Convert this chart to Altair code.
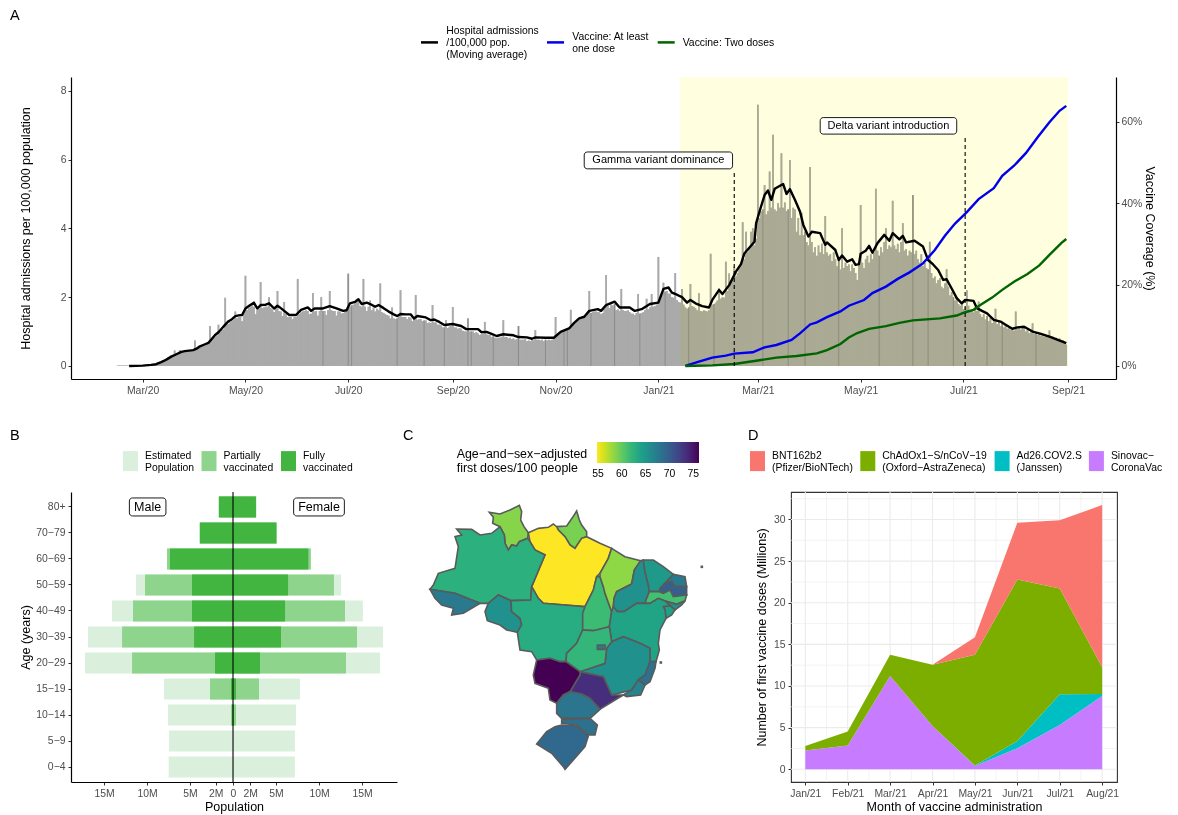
import altair as alt
import pandas as pd

FONT = "Liberation Sans"
TXT = "\u2212"

# ---------- Panel A ----------
start_day = "2020-02-15"
daily_adm = [
0.01,0.01,0.01,0.01,0.01,0.01,0.01,0.01,0.01,0.01,
0.01,0.01,0.01,0.01,0.01,0.02,0.01,0.02,0.02,0.02,
0.03,0.03,0.04,0.05,0.08,0.09,0.12,0.16,0.18,0.22,
.26,.27,.3,.3,.45,.33,.36,.46,.4,.42,
.42,.44,.44,.45,.44,.47,.74,.48,.52,.55,
.58,.6,.62,.66,.66,1.16,.72,.8,.85,.88,
1.2,.98,1.04,1.06,1.98,1.2,1.22,1.28,1.3,1.34,
1.58,1.38,1.42,1.42,1.3,1.56,2.62,1.62,1.68,1.72,
1.76,1.72,1.5,1.62,1.66,2.44,1.68,1.7,1.72,1.72,
2.0,1.68,1.64,1.56,1.66,2.18,1.6,1.58,1.45,1.86,
1.5,1.42,1.42,1.42,1.36,1.42,1.42,2.53,1.5,1.55,
1.58,1.6,1.62,1.6,1.5,1.52,2.12,1.58,1.6,1.46,
1.6,2.0,1.6,1.6,1.48,1.62,2.18,1.62,1.6,1.6,
1.46,1.58,1.58,1.52,1.54,1.56,1.6,2.68,1.72,1.76,
1.78,1.82,1.84,1.86,1.74,1.72,2.53,1.72,1.6,1.72,
1.9,1.62,1.7,1.58,1.66,1.62,2.4,1.56,1.54,1.5,
1.48,1.46,1.38,1.7,1.38,1.36,1.38,1.44,2.2,1.42,
1.42,1.42,1.36,1.42,1.4,1.3,1.36,2.06,1.34,1.36,
1.36,1.3,1.32,1.32,1.24,1.26,1.25,1.77,1.26,1.26,
1.2,1.2,1.18,1.12,1.12,1.33,1.1,1.14,1.16,1.71,
1.12,1.12,1.08,1.1,1.08,1.02,1.0,1.0,1.38,1.0,
1.0,1.0,.96,.98,.94,.9,.92,.92,1.28,.92,
.9,.9,.84,.86,.82,.8,.82,.82,.84,1.33,
.84,.84,.8,.82,.78,.8,.76,.78,1.16,.76,
.76,.76,.78,.72,.74,.72,.76,.74,1.04,.76,
.76,.74,.76,.72,.76,.74,.76,.74,.76,.78,
1.42,.88,.94,.98,1.04,1.02,1.06,1.1,1.06,1.63,
1.18,1.22,1.3,1.3,1.34,1.36,1.38,1.42,1.46,1.5,
2.18,1.54,1.56,1.58,1.58,1.56,1.56,1.5,1.54,1.66,
2.64,1.74,1.68,1.78,1.76,1.8,1.62,1.64,1.6,2.24,
1.62,1.6,1.6,1.62,1.56,1.52,1.52,1.48,1.54,2.09,
1.52,1.54,1.56,1.62,1.95,1.64,1.7,2.09,1.72,1.74,
1.78,3.17,2.0,2.1,2.42,2.16,2.18,2.1,2.1,2.0,
1.98,2.7,1.92,1.86,1.84,2.24,1.78,1.7,1.66,1.7,
2.38,1.74,1.72,1.68,1.62,2.11,1.6,1.58,1.62,1.6,
1.58,1.62,3.26,1.78,1.8,1.84,1.9,2.26,1.95,2.0,
1.98,3.03,2.18,2.69,2.42,2.5,2.89,2.6,2.7,2.85,
2.95,4.18,3.1,3.9,3.3,3.4,3.9,4.0,3.5,3.7,
7.59,4.3,4.5,4.55,5.26,4.4,4.5,5.65,4.6,6.72,
4.55,4.5,4.73,4.6,6.18,4.6,4.75,4.5,4.55,5.99,
4.3,4.6,4.55,3.9,4.3,3.8,4.45,3.8,3.9,3.6,
3.5,5.78,3.6,3.3,3.45,3.2,3.5,3.3,3.55,3.25,
4.36,3.3,3.2,3.25,3.05,3.3,3.1,2.9,3.05,2.8,
4.0,2.85,3.0,2.9,2.95,2.75,2.95,2.85,2.7,2.5,
2.95,4.68,3.0,2.85,3.1,3.2,3.0,3.25,3.1,3.3,
5.15,3.35,3.2,3.45,3.3,3.6,4.0,3.4,3.5,3.45,
4.8,3.5,3.4,3.55,3.3,3.6,4.15,3.35,3.4,3.2,
3.35,3.3,4.97,3.25,3.35,3.1,3.0,3.25,2.9,3.0,
2.85,2.8,3.61,2.7,2.55,2.6,2.4,2.5,2.55,2.3,
2.25,2.4,2.81,2.3,2.05,2.15,2.0,1.9,2.0,1.8,
1.75,1.85,1.65,1.7,2.2,1.75,1.6,1.65,1.55,1.7,
1.6,1.87,1.5,1.42,1.5,1.35,1.45,1.3,1.4,1.25,
1.3,1.66,1.22,1.3,1.15,1.25,1.12,1.2,1.08,1.12,
1.05,1.1,1.02,1.58,1.08,1.12,1.05,1.1,1.15,1.0,
1.05,0.95,1.0,1.24,0.92,0.98,0.9,0.95,0.88,0.92,
0.85,0.9,0.88,1.03,0.82,0.85,0.78,0.82,0.75,0.8,
0.72,0.75,0.68,0.62]
dark_days = [122,137,139,166,182,194,208,210,223,238,254,265,267,281,295,310,325,339,
             354,383,398,408,428,452,472,481,496,516,525,545]
ma_days = [7,15,20,23,26,29,32,35,38,40,45,47,49,52,54,56,58,60,62,64,66,68,70,72,74,76,78,81,83,85,88,90,93,95,97,99,
102,106,109,113,115,117,122,126,130,134,136,138,141,143,145,148,150,153,155,158,161,164,166,168,171,174,176,178,183,186,188,191,194,199,
204,207,214,216,219,222,225,229,235,238,243,246,248,254,259,263,268,271,274,277,280,285,287,290,295,298,304,307,311,316,321,324,327,329,
332,335,338,340,343,347,351,353,357,359,363,367,370,372,378,379,381,384,386,388,390,395,397,399,402,405,407,410,412,417,420,421,426,428,
430,433,436,438,440,441,444,446,448,451,455,458,460,464,466,468,473,478,481,484,487,490,492,495,498,501,503,508,510,513,516,520,524,527,
531,534,538,543,548,553,558,563]
ma_vals = [0,.01,.03,.05,.11,.18,.27,.34,.41,.43,.46,.5,.57,.63,.67,.78,.9,.98,1.09,1.2,1.3,1.36,1.45,1.47,1.48,1.67,1.74,1.84,1.67,1.77,1.78,1.82,1.67,1.75,1.68,1.6,
1.48,1.48,1.63,1.7,1.6,1.67,1.67,1.74,1.67,1.6,1.62,1.82,1.86,1.94,1.8,1.84,1.8,1.72,1.77,1.68,1.58,1.5,1.45,1.51,1.5,1.5,1.38,1.45,1.41,1.33,1.35,1.28,1.19,1.22,
1.16,1.07,1.07,.98,.99,.93,.87,.92,.89,.84,.83,.79,.83,.82,.82,.99,1.09,1.25,1.38,1.43,1.6,1.65,1.6,1.77,1.87,1.7,1.7,1.6,1.65,1.8,1.84,2.24,2.28,2.13,
2.07,2.0,1.84,1.92,1.82,1.74,1.7,1.92,2.21,2.09,2.35,2.74,2.96,3.27,3.61,4.15,4.49,4.97,5.1,4.83,5.15,5.29,5.0,5.14,4.83,4.49,4.1,3.76,3.9,3.86,3.52,3.59,3.37,3.08,
3.21,3.03,3.1,2.94,2.96,3.26,3.35,3.49,3.29,3.57,3.81,3.64,3.86,3.68,3.78,3.59,3.64,3.47,3.08,2.95,2.79,2.5,2.52,2.25,1.97,1.82,1.92,1.89,1.68,1.6,1.53,1.34,1.29,1.2,
1.08,1.12,1.14,1.0,.93,.85,.76,.66]
blue_days = [337,345,353,361,366,377,384,391,400,405,411,415,421,429,434,443,448,456,463,470,478,485,491,497,504,511,520,525,532,539,546,553,559,563]
blue_vals = [0,1.07,2.05,2.54,3.03,3.36,4.59,5.16,6.4,8.0,10.2,10.7,12,13.4,14.8,16.2,17.9,19.5,21.4,23,25.2,28.5,32,35,37.8,41,43.7,46.7,49.2,52.3,56.2,59.9,62.7,63.9]
green_days = [337,353,366,381,391,403,415,421,429,434,439,446,456,464,472,488,498,503,508,512,519,525,532,540,547,553,560,563]
green_vals = [0,.16,.5,1.4,2.05,2.46,3.1,3.9,5.4,7,8.1,9.1,9.8,10.6,11.2,11.7,12.4,13.2,13.8,15,16.8,18.7,20.7,22.6,24.7,27.3,30.2,31.2]

S_MA = "Hospital admissions\n/100,000 pop.\n(Moving average)"
S_V1 = "Vaccine: At least\none dose"
S_V2 = "Vaccine: Two doses"
A_series = [S_MA, S_V1, S_V2]
A_colors = ["#000000", "#0000EE", "#006400"]

annot_text = ["Gamma variant dominance", "Delta variant introduction"]
annot_day = [366, 503]
annot_top = [5.65, 6.69]
annot_box_from = [277, 417]
annot_box_to = [365, 498]
annot_box_low = [5.73, 6.74]
annot_box_high = [6.22, 7.22]
annot_label_y = [5.98, 6.98]
shade_from, shade_to = 334, 564


def day(d):
    return (pd.Timestamp(start_day) + pd.to_timedelta(d, unit="h") * 24).strftime("%Y-%m-%dT%H:%M:%S")


XDOM = ["2020-01-18T12:00:00", "2021-09-29T12:00:00"]
AX_A = alt.Axis(format="%b/%y", tickCount={"interval": "month", "step": 2}, labelPadding=3)


def xa(field="date"):
    return alt.X(f"{field}:T", title=None, scale=alt.Scale(domain=XDOM, padding=0), axis=AX_A)


LEFT_DOM = [-0.38, 8.4]
RIGHT_DOM = [-3.2, 71]


def yl(f, axis=None):
    return alt.Y(f"{f}:Q", title=None, scale=alt.Scale(domain=LEFT_DOM, nice=False, zero=False), axis=axis)


bars_df = pd.DataFrame({"date": [day(i) for i in range(len(daily_adm))], "v": daily_adm})
dark_df = pd.DataFrame({"date": [day(d) for d in dark_days], "v": [daily_adm[d] for d in dark_days]})
ma_df = pd.DataFrame({"date": [day(d) for d in ma_days], "v": ma_vals, "s": S_MA})
vac_df = pd.DataFrame({"date": [day(d) for d in blue_days] + [day(d) for d in green_days],
                       "v": blue_vals + green_vals,
                       "s": [S_V1] * len(blue_days) + [S_V2] * len(green_days)})
shade_df = pd.DataFrame({"date": [day(shade_from)], "date2": [day(shade_to)]})
ann_df = pd.DataFrame({"date": [day(d) for d in annot_day], "top": annot_top, "zero": [0, 0],
                       "b1": [day(d) for d in annot_box_from], "b2": [day(d) for d in annot_box_to],
                       "low": annot_box_low, "high": annot_box_high, "ly": annot_label_y,
                       "mid": [day((a + b) / 2) for a, b in zip(annot_box_from, annot_box_to)],
                       "t": annot_text})

color_a = alt.Color("s:N", scale=alt.Scale(domain=A_series, range=A_colors), legend=None)

a_under = alt.Chart(bars_df).mark_area(interpolate="step", color="#AAAAAA").encode(x=xa(), y=yl("v"))
a_bars = alt.Chart(bars_df).mark_bar(size=1.685, color="#AAAAAA").encode(
    x=xa(),
    y=yl("v", alt.Axis(values=[0, 2, 4, 6, 8], title="Hospital admissions per 100,000 population", titlePadding=28)))
a_dark = alt.Chart(dark_df).mark_bar(size=1, color="#8C8C8C").encode(x=xa(), y=yl("v"))
a_shade = alt.Chart(shade_df).mark_rect(color="#FFFFE0", blend="multiply").encode(
    x=xa(), x2="date2:T", y=alt.value(0), y2=alt.value(289))
a_ma = alt.Chart(ma_df).mark_line(strokeWidth=2.4, strokeJoin="round").encode(x=xa(), y=yl("v"), color=color_a)
a_vac = alt.Chart(vac_df).mark_line(strokeWidth=2.4).encode(
    x=xa(),
    y=alt.Y("v:Q", title=None, scale=alt.Scale(domain=RIGHT_DOM, nice=False, zero=False),
            axis=alt.Axis(orient="right", values=[0, 20, 40, 60], labelExpr="datum.value + '%'",
                          title="Vaccine Coverage (%)", titlePadding=1)),
    color=color_a)
a_dash = alt.Chart(ann_df).mark_rule(color="#000000", strokeDash=[4, 3], strokeWidth=1.1).encode(
    x=xa(), y=yl("zero"), y2="top:Q")
a_box = alt.Chart(ann_df).mark_rect(fill="#FFFFFF", stroke="#000000", strokeWidth=0.9, cornerRadius=3).encode(
    x=xa("b1"), x2="b2:T", y=yl("low"), y2="high:Q")
a_txt = alt.Chart(ann_df).mark_text(fontSize=11, font=FONT, color="#000000").encode(
    x=xa("mid"), y=yl("ly"), text="t:N")


def panel_label(letter, px, py):
    return alt.Chart(pd.DataFrame({"t": [letter]})).mark_text(
        fontSize=14.5, font=FONT, align="left", baseline="middle", color="#000000").encode(
        x=alt.value(px), y=alt.value(py), text="t:N")


def multi_text(text, left, first_y, size=10.4, lh=11.7):
    return alt.Chart(pd.DataFrame({"s": [text]})).mark_text(
        fontSize=size, font=FONT, align="left", baseline="middle", lineBreak="\n", lineHeight=lh, color="#000000").encode(
        x=alt.value(left), y=alt.value(first_y), text="s:N")


def key_line(series, color, left):
    return alt.Chart(pd.DataFrame({"s": [series]})).mark_rule(color=color, strokeWidth=2.5).encode(
        x=alt.value(left), x2=alt.value(left + 17), y=alt.value(-34.6))


chart_a = alt.layer(a_under, a_bars, a_dark, a_shade, a_ma, a_vac, a_dash, a_box, a_txt, panel_label("A", -61, -61),
                    key_line(S_MA, A_colors[0], 350), multi_text(S_MA, 375.3, -45.6),
                    key_line(S_V1, A_colors[1], 476), multi_text(S_V1, 501.3, -39.9),
                    key_line(S_V2, A_colors[2], 586.7), multi_text(S_V2, 611.7, -34.4)).resolve_scale(
    y="independent").properties(width=1045, height=302)

# ---------- Panel B ----------
ages = ["80+", f"70{TXT}79", f"60{TXT}69", f"50{TXT}59", f"40{TXT}49", f"30{TXT}39", f"20{TXT}29", f"15{TXT}19",
        f"10{TXT}14", f"5{TXT}9", f"0{TXT}4"]
male_est = [-1.7, -3.9, -7.67, -11.28, -14.07, -16.86, -17.2, -8.02, -7.56, -7.44, -7.48]
male_par = [-1.66, -3.88, -7.67, -10.23, -11.63, -12.9, -11.74, -2.67, -0.23, 0, 0]
male_ful = [-1.63, -3.84, -7.33, -4.77, -4.77, -4.53, -2.09, -0.23, -0.1, 0, 0]
female_est = [2.75, 5.1, 9.07, 12.56, 15.1, 17.44, 17.1, 7.79, 7.33, 7.2, 7.2]
female_par = [2.68, 5.08, 9.05, 11.74, 13.02, 14.42, 13.14, 3.02, 0.35, 0, 0]
female_ful = [2.67, 5.04, 8.76, 6.4, 6.05, 5.58, 3.14, 0.35, 0.1, 0, 0]
G_EST, G_PAR, G_FUL = "Estimated\nPopulation", "Partially\nvaccinated", "Fully\nvaccinated"
B_groups = [G_EST, G_PAR, G_FUL]
B_colors = ["#DAF0DC", "#8ED48C", "#42B540"]
sex_label = ["Male", "Female"]
sex_box_from = [-12.05, 7.05]
sex_box_to = [-7.8, 12.95]
sex_mid = [-9.93, 10.0]

rows = []
for grp, m, f in [(G_EST, male_est, female_est), (G_PAR, male_par, female_par), (G_FUL, male_ful, female_ful)]:
    for a, mv, fv in zip(ages, m, f):
        rows.append({"age": a, "v": mv, "g": grp})
        rows.append({"age": a, "v": fv, "g": grp})
b_df = pd.DataFrame(rows)
BDOM = [-18.84, 19.07]
AX_BX = alt.Axis(values=[-15, -10, -5, -2, 0, 2, 5, 10, 15], labelOverlap=False, labelPadding=3, titlePadding=2,
                 labelExpr="datum.value == 0 ? '0' : abs(datum.value) + 'M'")


def xb(field):
    return alt.X(f"{field}:Q", stack=None, title="Population", scale=alt.Scale(domain=BDOM, nice=False, zero=False), axis=AX_BX)


def yb():
    return alt.Y("age:N", sort=ages, title="Age (years)",
                 scale=alt.Scale(domain=ages, paddingInner=0.19, paddingOuter=0.17),
                 axis=alt.Axis(titlePadding=3, labelPadding=3))


RECT_SYMBOL = "M-0.75,-0.5H0.75V1.5H-0.75Z"
b_bars = alt.Chart(b_df).mark_bar().encode(
    x=xb("v"), y=yb(),
    color=alt.Color("g:N", scale=alt.Scale(domain=B_groups, range=B_colors),
                    legend=alt.Legend(title=None, orient="none", legendX=49.5, legendY=-46, direction="horizontal", columns=3,
                                      symbolType=RECT_SYMBOL, symbolSize=400, labelOffset=4.5,
                                      columnPadding=4.5, padding=0, symbolStrokeWidth=0,
                                      labelExpr="split(datum.label, '\\n')")))
sex_df = pd.DataFrame({"t": sex_label, "age": [ages[0]] * 2, "x1": sex_box_from, "x2": sex_box_to, "m": sex_mid})
b_zero = alt.Chart(pd.DataFrame({"v": [0]})).mark_rule(color="#000000", strokeWidth=1.1).encode(x=xb("v"))
b_box = alt.Chart(sex_df).mark_bar(size=18, fill="#FFFFFF", stroke="#000000", strokeWidth=0.9, cornerRadius=3).encode(
    x=xb("x1"), x2="x2:Q", y=yb())
b_txt = alt.Chart(sex_df).mark_text(fontSize=12.5, font=FONT, color="#000000").encode(
    x=xb("m"), y=yb(), text="t:N")
chart_b = alt.layer(b_bars, b_zero, b_box, b_txt, panel_label("B", -61, -56)).properties(width=326, height=290)

# ---------- Panel C ----------
state_values = {"RR": 58.7, "AP": 59.1, "PA": 54.8, "AM": 62.5, "AC": 67.6, "RO": 65.5, "MT": 62.9, "TO": 61.6, "MA": 58.4,
                "PI": 65.5, "CE": 64.6, "RN": 67.5, "PB": 69.8, "PE": 61.2, "AL": 65.5, "SE": 64.0, "BA": 63.7, "MG": 65.5,
                "GO": 62.0, "DF": 67.5, "ES": 68.3, "RJ": 66.6, "SP": 73.4, "MS": 76.2, "PR": 67.9, "SC": 68.3, "RS": 69.0,
                "N1": 65.0, "N2": 68.3}
state_outlines = {
 "RR": [(268,247),(300,252),(330,240),(358,226),(365,245),(362,270),(372,290),(385,308),(383,325),(358,335),(350,348),(335,345),(325,360),(315,340),(313,315),(300,290),(278,280),(280,262)],
 "AP": [(470,290),(500,288),(518,262),(530,243),(538,270),(545,285),(560,305),(560,320),(545,325),(525,355),(510,345),(495,320),(475,300)],
 "PA": [(385,308),(415,295),(445,292),(460,282),(470,290),(475,300),(495,320),(510,345),(525,355),(545,325),(560,320),(600,340),(635,355),(625,385),(600,430),(590,440),(580,480),(555,530),(430,520),(415,505),(395,470),(435,375),(405,360),(390,335)],
 "AM": [(170,297),(215,298),(240,315),(275,310),(300,290),(313,315),(315,340),(325,360),(335,345),(350,348),(358,335),(383,325),(390,335),(405,360),(435,375),(395,470),(392,510),(333,512),(295,495),(265,520),(240,520),(165,490),(90,478),(100,465),(115,430),(165,415),(175,350),(165,320),(185,315)],
 "AC": [(90,478),(165,490),(240,520),(215,535),(190,550),(155,555),(160,535),(125,525),(105,505)],
 "RO": [(295,495),(333,512),(335,545),(360,565),(365,585),(352,607),(320,600),(300,585),(262,572),(255,545),(265,520)],
 "MT": [(333,512),(392,510),(395,470),(415,505),(430,520),(555,530),(548,600),(530,640),(500,670),(498,695),(480,695),(450,685),(410,690),(395,665),(360,660),(352,607),(365,585),(360,565),(335,545)],
 "TO": [(600,440),(610,470),(615,490),(635,545),(628,590),(600,598),(580,602),(548,600),(548,550),(555,530),(580,480),(590,440)],
 "MA": [(635,355),(675,380),(722,392),(703,420),(695,462),(650,485),(642,505),(640,530),(635,545),(615,490),(610,470),(600,440),(600,430),(625,385)],
 "PI": [(730,390),(735,425),(745,465),(748,485),(740,505),(735,520),(710,520),(672,545),(652,545),(640,530),(642,505),(650,485),(695,462),(703,420),(722,392)],
 "CE": [(730,390),(760,390),(790,410),(820,433),(795,460),(780,475),(778,485),(748,485),(745,465),(735,425)],
 "RN": [(820,433),(855,440),(860,470),(825,470),(815,455),(795,460)],
 "PB": [(780,475),(795,460),(815,455),(825,470),(860,470),(860,495),(820,500),(810,480),(790,490),(778,485)],
 "PE": [(735,520),(740,505),(748,485),(778,485),(790,490),(810,480),(820,500),(860,495),(855,513),(830,523),(795,513),(775,505),(750,520)],
 "AL": [(795,513),(830,523),(855,513),(845,525),(825,540),(810,527)],
 "SE": [(790,530),(810,527),(825,540),(815,555),(798,565),(795,540)],
 "BA": [(710,520),(735,520),(750,520),(775,505),(795,513),(810,527),(790,530),(795,540),(798,565),(780,600),(775,640),(778,660),(768,695),(750,695),(750,655),(720,640),(670,620),(635,635),(628,590),(635,545),(640,530),(652,545),(672,545)],
 "MG": [(635,635),(670,620),(720,640),(750,655),(750,695),(735,735),(715,750),(695,780),(635,795),(610,740),(540,725),(615,700),(620,655)],
 "GO": [(548,600),(580,602),(628,590),(635,635),(620,655),(615,700),(540,725),(498,695),(500,670),(530,640)],
 "DF": [(592,645),(615,645),(615,658),(592,658)],
 "ES": [(750,695),(768,695),(765,715),(750,755),(735,765),(715,750),(735,735)],
 "RJ": [(715,750),(735,765),(722,795),(680,800),(670,795),(695,780)],
 "SP": [(540,735),(540,725),(610,740),(635,795),(670,795),(645,810),(600,838),(570,805),(545,792),(510,785)],
 "MS": [(410,690),(450,685),(480,695),(498,695),(540,725),(540,735),(510,785),(490,795),(470,820),(450,810),(445,775),(405,760),(400,735)],
 "PR": [(490,795),(510,785),(545,792),(570,805),(600,838),(570,865),(485,865),(470,850),(470,820)],
 "SC": [(485,868),(570,865),(592,885),(585,915),(565,915),(530,885),(485,880)],
 "RS": [(485,885),(530,888),(565,918),(555,950),(520,990),(495,1018),(490,1010),(455,970),(410,942),(440,905),(465,890)],
 "N1": [(904,409),(907,409),(907,412),(904,412)],
 "N2": [(781,696),(784,696),(784,699),(781,699)],
}
map_ticks = [55, 60, 65, 70, 75]
MAP_DOM = [54.8, 76.2]
MAP_TITLE = f"Age{TXT}and{TXT}sex{TXT}adjusted\nfirst doses/100 people"


def to_geo(pts):
    ring = [[-74 + (a - 88) / 19.74, 5.3 - (b - 225) / 19.74] for a, b in pts]
    return ring + [ring[0]]


features = [{"type": "Feature", "properties": {"name": k, "value": state_values[k]},
             "geometry": {"type": "Polygon", "coordinates": [to_geo(v)]}} for k, v in state_outlines.items()]
c_map = alt.Chart(alt.Data(values=features)).mark_geoshape(stroke="#5A5A5A", strokeWidth=1.6).encode(
    color=alt.Color("properties.value:Q",
                    scale=alt.Scale(scheme="viridis", reverse=True, domain=MAP_DOM, nice=False, zero=False),
                    legend=alt.Legend(title=None, orient="none", legendX=180, legendY=-50,
                                      direction="horizontal", gradientLength=102, gradientThickness=21, values=map_ticks,
                                      padding=0, labelOverlap=False, labelOffset=6)),
).project(type="identity", reflectY=True, scale=6.58, translate=[499.25, 47.87])


def bar_tick(v, y1, y2):
    px = 180 + (v - MAP_DOM[0]) / (MAP_DOM[1] - MAP_DOM[0]) * 102
    return alt.Chart(pd.DataFrame({"v": [v]})).mark_rule(color="#FFFFFF", strokeWidth=0.8).encode(
        x=alt.value(px), y=alt.value(y1), y2=alt.value(y2))


c_ticks = []
for v in map_ticks:
    c_ticks += [bar_tick(v, -50, -46), bar_tick(v, -33, -29)]
chart_c = alt.layer(c_map, *c_ticks, multi_text(MAP_TITLE, 39.7, -38, size=12.4, lh=14),
                    panel_label("C", -14, -56)).properties(width=354, height=290)

# ---------- Panel D ----------
months = ["Jan/21", "Feb/21", "Mar/21", "Apr/21", "May/21", "Jun/21", "Jul/21", "Aug/21"]
pfizer = [0, 0, 0, 0.01, 2.13, 6.8, 8.2, 19.47]
astra = [0.56, 1.69, 2.54, 7.34, 13.29, 19.4, 12.7, 3.21]
janssen = [0, 0, 0, 0, 0.05, 0.88, 3.67, 0.25]
sinovac = [2.24, 2.84, 11.2, 5.2, 0.4, 2.52, 5.33, 8.8]
V_P = "BNT162b2\n(Pfizer/BioNTech)"
V_A = f"ChAdOx1{TXT}S/nCoV{TXT}19\n(Oxford{TXT}AstraZeneca)"
V_J = "Ad26.COV2.S\n(Janssen)"
V_S = f"Sinovac{TXT}\nCoronaVac"
D_series = [V_P, V_A, V_J, V_S]
D_colors = ["#F8766D", "#7CAE00", "#00BFC4", "#C77CFF"]
d_rows = []
for rank, (nm, vals) in enumerate([(V_S, sinovac), (V_J, janssen), (V_A, astra), (V_P, pfizer)]):
    for i, v in enumerate(vals):
        d_rows.append({"m": i + 1, "v": v, "s": nm, "r": rank})
d_df = pd.DataFrame(d_rows)
minor_y = [2.5, 7.5, 12.5, 17.5, 22.5, 27.5, 32.5]
major_y = [0, 5, 10, 15, 20, 25, 30]
minor_x = [1.5, 2.5, 3.5, 4.5, 5.5, 6.5, 7.5]
major_x = [1, 2, 3, 4, 5, 6, 7, 8]
DX = [0.663, 8.35]
DY = [-1.53, 33.3]
month_expr = "[" + ",".join(f"'{m}'" for m in months) + "][datum.value - 1]"
AX_DX = alt.Axis(values=major_x, labelExpr=month_expr, labelOverlap=False, labelPadding=3, titlePadding=2, grid=False, domain=False)
AX_DY = alt.Axis(values=major_y, titlePadding=5, labelPadding=3, domain=False, grid=False)


def xd():
    return alt.X("m:Q", title="Month of vaccine administration", scale=alt.Scale(domain=DX, nice=False, zero=False), axis=AX_DX)


def yd(**kw):
    return alt.Y("v:Q", title="Number of first vaccine doses (Millions)", scale=alt.Scale(domain=DY, nice=False, zero=False),
                 axis=AX_DY, **kw)


def rule_x(vals, w):
    return alt.Chart(pd.DataFrame({"m": vals})).mark_rule(color="#EBEBEB", strokeWidth=w).encode(x=xd())


def rule_y(vals, w):
    return alt.Chart(pd.DataFrame({"v": vals})).mark_rule(color="#EBEBEB", strokeWidth=w).encode(y=yd())


d_area = alt.Chart(d_df).mark_area().encode(
    x=xd(),
    y=yd(stack="zero"),
    order=alt.Order("r:Q", sort="ascending"),
    color=alt.Color("s:N", scale=alt.Scale(domain=D_series, range=D_colors),
                    legend=alt.Legend(title=None, orient="none", legendX=-43.5, legendY=-46, direction="horizontal", columns=4,
                                      symbolType=RECT_SYMBOL, symbolSize=400, labelOffset=4.5,
                                      columnPadding=4.3, padding=0, symbolStrokeWidth=0,
                                      labelExpr="split(datum.label, '\\n')")))
chart_d = alt.layer(rule_x(minor_x, 0.6), rule_y(minor_y, 0.6), rule_x(major_x, 1.1), rule_y(major_y, 1.1), d_area,
                    panel_label("D", -43, -56)).properties(width=326, height=290,
                                                           view=alt.ViewConfig(stroke="#333333", strokeWidth=1.1))

row2 = alt.hconcat(chart_b, chart_c, chart_d, spacing=20, bounds="flush").resolve_scale(color="independent")
chart = alt.vconcat(chart_a, row2, spacing=113, bounds="flush").resolve_scale(color="independent").properties(
    padding={"left": 2, "top": 0, "right": 0, "bottom": 0}
).configure(font=FONT).configure_view(stroke=None).configure_axis(
    labelFont=FONT, titleFont=FONT, labelFontSize=10.4, titleFontSize=12.5, labelColor="#4D4D4D", titleColor="#000000",
    titleFontWeight="normal", tickColor="#333333", domainColor="#000000", tickSize=3, grid=False, domainWidth=1.2, tickWidth=1
).configure_legend(labelFont=FONT, titleFont=FONT, labelFontSize=10.4, labelColor="#000000", titleColor="#000000")

chart.save("out.html", embed_options={"renderer": "svg", "actions": False})
